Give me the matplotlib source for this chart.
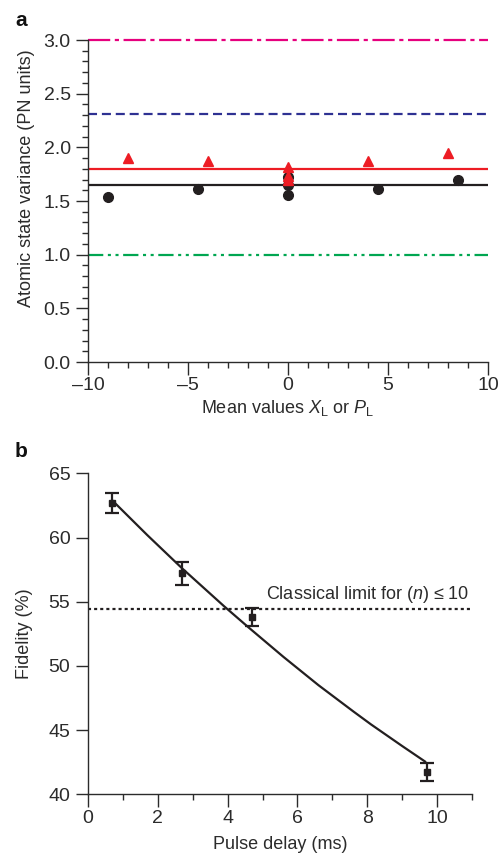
import matplotlib
matplotlib.use("Agg")
import matplotlib.pyplot as plt
import numpy as np

plt.rcParams['font.family'] = ['Liberation Sans', 'DejaVu Sans']
plt.rcParams['mathtext.fontset'] = 'custom'
plt.rcParams['mathtext.rm'] = 'Liberation Sans'
plt.rcParams['mathtext.it'] = 'Liberation Sans:italic'
plt.rcParams['lines.scale_dashes'] = False

TXT = '#2b2b2b'

# panel a: atomic state variance
black_x = [-9, -4.5, 0, 0, 0, 4.5, 8.5]
black_y = [1.54, 1.61, 1.72, 1.65, 1.56, 1.61, 1.70]
red_x = [-8, -4, 0, 0, 0, 4, 8]
red_y = [1.90, 1.87, 1.82, 1.73, 1.70, 1.87, 1.95]
black_mean = 1.65
red_mean = 1.80
blue_level = 2.31
pink_level = 3.0
green_level = 1.0

# panel b: fidelity vs pulse delay
delay = [0.7, 2.7, 4.7, 9.7]
fidelity = [62.7, 57.2, 53.8, 41.7]
fid_err = [0.78, 0.88, 0.72, 0.70]
fit_x = [0.7, 1.7, 2.7, 3.9, 4.6, 5.6, 6.6, 7.6, 8.1, 9.0, 9.65]
fit_y = [62.9, 60.2, 57.6, 54.65, 53.0, 50.7, 48.5, 46.45, 45.45, 43.75, 42.55]
classical_limit = 54.43

fig = plt.figure(figsize=(5.02, 8.55), dpi=100)

def style_axes(ax):
    for s in ['top', 'right']:
        ax.spines[s].set_visible(False)
    for s in ['left', 'bottom']:
        ax.spines[s].set_color(TXT)
        ax.spines[s].set_linewidth(1.0)
    ax.tick_params(which='major', direction='out', length=9, width=1.0,
                   color=TXT, labelcolor=TXT, labelsize=14)
    ax.tick_params(which='minor', direction='out', length=4.3, width=1.0, color=TXT)
    ax.tick_params(axis='y', pad=3.5)
    ax.tick_params(axis='x', pad=2)

# ---- a ----
ax1 = fig.add_axes([0.1753, 0.5766, 0.7967, 0.3766])
style_axes(ax1)
ax1.axhline(pink_level, color='#e6007e', lw=1.6, dashes=(16, 3.3, 3, 3.3), clip_on=False)
ax1.axhline(blue_level, color='#2e3192', lw=1.6, dashes=(6.5, 3.5))
ax1.axhline(red_mean, color='#ed1c24', lw=1.6)
ax1.axhline(black_mean, color='#231f20', lw=1.6)
ax1.axhline(green_level, color='#00a651', lw=1.6, dashes=(11, 3.3, 2.2, 3.3, 2.2, 3.3))
ax1.plot(black_x, black_y, 'o', color='#231f20', ms=7, ls='none', zorder=3)
ax1.plot(red_x, red_y, '^', color='#ed1c24', ms=7, ls='none', zorder=4, clip_on=False)
ax1.set_xlim(-10, 10)
ax1.set_ylim(0, 3.0)
ax1.set_xticks([-10, -5, 0, 5, 10])
ax1.set_xticks(np.arange(-10, 11, 1), minor=True)
ax1.set_yticks([0, 0.5, 1.0, 1.5, 2.0, 2.5, 3.0])
ax1.set_yticks(np.arange(0, 3.01, 0.1), minor=True)
ax1.set_yticklabels(['0.0', '0.5', '1.0', '1.5', '2.0', '2.5', '3.0'])
ax1.set_xticklabels(['\u201310', '\u20135', '0', '5', '10'])
ax1.set_xlabel(r'Mean values $X_{\mathrm{L}}$ or $P_{\mathrm{L}}$', fontsize=13, color=TXT, labelpad=3)
ax1.set_ylabel('Atomic state variance (PN units)', fontsize=13, color=TXT)
ax1.yaxis.set_label_coords(-0.1325, 0.571)
fig.text(0.03, 0.976, 'a', fontsize=15, fontweight='bold', color='#111111', va='center', ha='left')

# ---- b ----
ax2 = fig.add_axes([0.1747, 0.0710, 0.7661, 0.3754])
style_axes(ax2)
ax2.axhline(classical_limit, color='#231f20', lw=1.6, dashes=(2.2, 2.2))
ax2.plot(fit_x, fit_y, color='#231f20', lw=1.6)
ax2.errorbar(delay, fidelity, yerr=fid_err, fmt='s', color='#231f20', ms=4.5,
             elinewidth=1.6, capsize=5, capthick=1.6)
ax2.text(10.9, classical_limit + 0.35, 'Classical limit for ($n$) \u2264 10',
         fontsize=13, color=TXT, ha='right', va='bottom')
ax2.set_xlim(0, 11)
ax2.set_ylim(40, 65)
ax2.set_xticks([0, 2, 4, 6, 8, 10])
ax2.set_xticks(np.arange(0, 12, 1), minor=True)
ax2.set_yticks([40, 45, 50, 55, 60, 65])
ax2.set_xlabel('Pulse delay (ms)', fontsize=13, color=TXT, labelpad=7)
ax2.set_ylabel('Fidelity (%)', fontsize=13, color=TXT)
ax2.yaxis.set_label_coords(-0.141, 0.5)
fig.text(0.03, 0.472, 'b', fontsize=15, fontweight='bold', color='#111111', va='center', ha='left')

fig.savefig('out.png', dpi=100)
